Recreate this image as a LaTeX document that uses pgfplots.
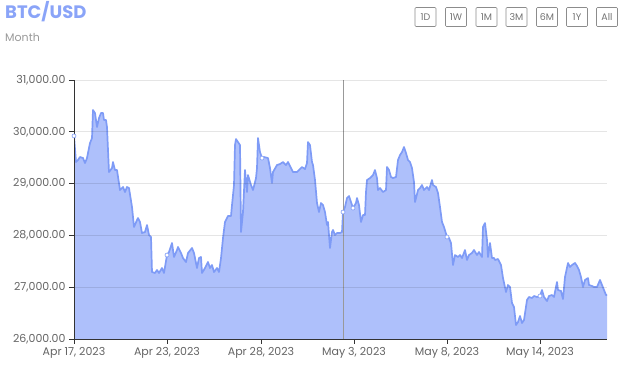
\documentclass[border=0pt]{standalone}
\usepackage{fontspec}
\setmainfont{Poppins}
\usepackage{pgfplots}
\pgfplotsset{compat=1.18}
\usepackage{pgfplotstable}
\definecolor{lineblue}{RGB}{126,155,246}
\definecolor{fillblue}{RGB}{174,192,251}
\definecolor{titleblue}{RGB}{138,164,248}
\definecolor{ticklab}{RGB}{100,100,100}
\pgfplotstableread{
x y
74 29920
76 29416
78 29455
80 29513
83 29493
85 29397
87 29493
88 29590
90 29783
92 29879
93 30420
95 30362
97 30092
99 30265
101 30362
103 30362
104 30227
106 30227
107 30092
108 29648
109 29223
112 29300
113 29416
115 29262
117 29262
120 28876
123 28934
125 28837
127 28934
129 28914
132 28548
134 28162
137 28297
138 28335
140 28258
142 28046
145 28065
147 28200
149 28007
151 27969
152 27293
155 27274
157 27332
159 27274
162 27370
164 27274
167 27621
169 27679
172 27853
174 27583
177 27718
178 27776
181 27660
183 27563
186 27486
188 27660
192 27756
194 27660
197 27370
199 27563
201 27583
202 27274
205 27370
208 27486
210 27370
212 27428
214 27293
217 27370
219 27293
221 27563
223 27949
225 28258
228 28374
231 28374
232 28586
234 28972
235 29744
236 29860
238 29802
240 29744
241 28065
243 28451
245 29262
247 28837
248 29165
251 28972
253 28876
256 29107
257 29300
258 29879
260 29609
262 29493
264 29513
268 29493
270 29300
272 29011
273 29223
277 29358
280 29378
283 29416
286 29358
288 29416
291 29300
293 29223
297 29223
299 29262
302 29320
305 29281
307 29397
308 29802
310 29744
312 29416
313 29358
315 29069
317 28625
319 28451
321 28625
323 28586
325 28451
327 28200
328 28258
330 27756
332 28065
333 28104
335 28007
337 28046
340 28046
342 28065
343 28451
345 28548
347 28721
349 28760
351 28644
353 28528
356 28625
357 28721
359 28586
361 28258
363 28393
365 28393
366 28837
367 29069
370 29107
373 29165
375 29262
377 29107
378 28876
380 28914
383 28837
386 28876
387 29320
389 29262
391 29127
393 29107
396 29127
398 29455
400 29551
402 29609
404 29706
406 29590
408 29455
410 29416
412 29300
414 29030
415 28644
418 28876
420 28914
422 28972
424 28876
427 28934
429 28876
432 29069
433 28972
436 28934
438 28818
440 28548
442 28258
444 28162
447 27969
449 27949
451 27853
453 27428
455 27621
458 27583
460 27621
462 27563
465 27718
467 27525
469 27621
472 27660
474 27718
477 27621
479 27679
482 27583
483 28162
485 28239
487 27911
488 27583
490 27853
492 27563
494 27563
495 27525
498 27544
501 27428
503 27177
506 26907
508 27042
510 27004
512 26695
514 26618
516 26270
518 26328
520 26444
522 26309
524 26367
527 26753
529 26811
532 26791
534 26830
537 26811
540 26830
542 26946
544 26811
547 26733
549 26830
552 26849
554 26811
557 27100
558 26946
561 26926
563 26772
565 27197
568 27467
570 27390
572 27428
575 27467
577 27409
579 27332
581 27197
583 27004
585 27139
588 27177
589 27042
592 27023
594 27004
597 27004
600 27139
602 27042
604 26946
606 26849
607 26849
}\btcdata

\begin{document}
\begin{tikzpicture}[x=1pt,y=1pt]
\path[use as bounding box] (0,0) rectangle (622,370);
\node[anchor=base west, text=titleblue, font=\fontsize{18}{20}\selectfont\bfseries, inner sep=0pt] at (5,351) {BTC/USD};
\node[anchor=base west, text=black!40, font=\fontsize{11}{13}\selectfont, inner sep=0pt] at (5,328) {Month};
\foreach \lab/\cx in {1D/425.5,1W/456,1M/486.5,3M/516.5,6M/547,1Y/577,All/607}{
  \node[draw=black!45, line width=0.6pt, rounded corners=1pt, minimum width=21pt, minimum height=19pt, inner sep=0pt, text=black!55, font=\fontsize{9.5}{10}\selectfont] at (\cx,353) {\lab};
}
\begin{axis}[
  at={(74pt,290pt)}, anchor=north west,
  scale only axis, width=533pt, height=259pt,
  xmin=74, xmax=607, ymin=26000, ymax=31000,
  axis lines=left,
  axis line style={-, draw=black!80, line width=0.8pt},
  xtick={74,167,261,354,447,540},
  xticklabels={{Apr 17, 2023},{Apr 23, 2023},{Apr 28, 2023},{May 3, 2023},{May 8, 2023},{May 14, 2023}},
  ytick={26000,27000,28000,29000,30000,31000},
  scaled y ticks=false,
  yticklabel={\pgfmathprintnumber[fixed,fixed zerofill,precision=2,1000 sep={,},assume math mode=true]{\tick}},
  ymajorgrids,
  grid style={draw=black, opacity=0.1, line width=0.6pt},
  axis on top,
  tick align=outside,
  major tick length=5pt,
  tick style={draw=black!80, line width=0.8pt},
  ticklabel style={font=\fontsize{11}{13}\selectfont, text=ticklab},
]
\addplot[draw=none, fill=fillblue] table[x=x,y=y]{\btcdata} \closedcycle;
\addplot[lineblue, line width=1.7pt, line join=round] table[x=x,y=y]{\btcdata};
\addplot[black!40, line width=0.8pt] coordinates {(343,26000) (343,31000)};
\addplot[only marks, mark=*, mark size=2pt, mark options={fill=white, draw=lineblue, line width=0.6pt}] coordinates {(74,29920) (167,27621) (262,29493) (343,28451) (353,28528) (447,27969) (540,26830)};
\end{axis}
\end{tikzpicture}
\end{document}
